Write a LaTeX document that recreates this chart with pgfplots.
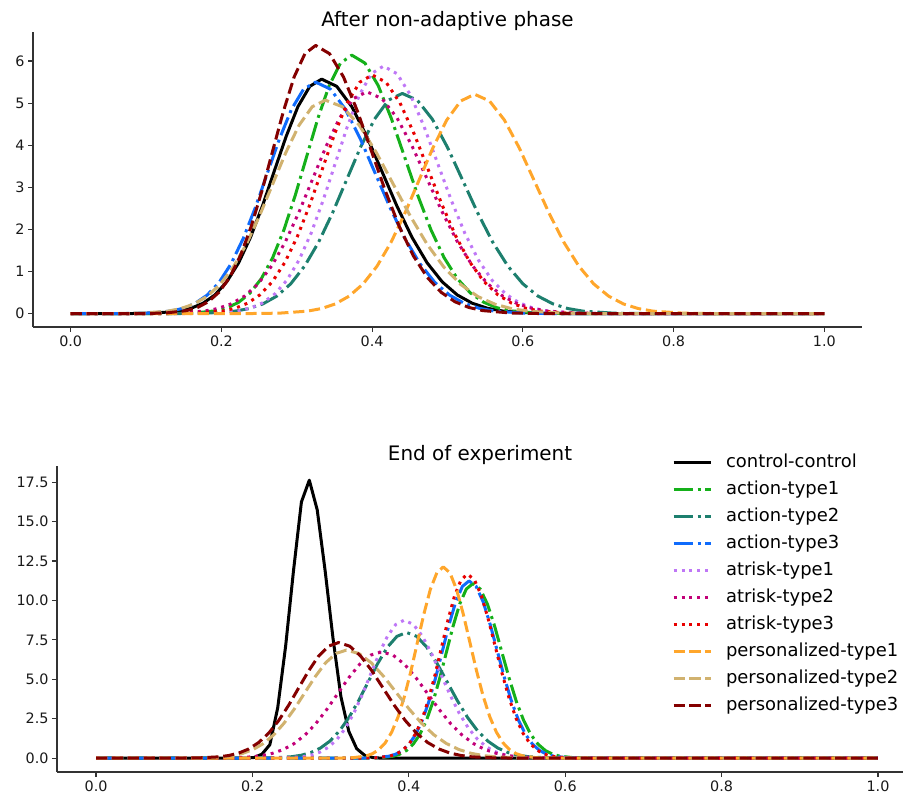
\documentclass[border=0pt]{standalone}
\usepackage{pgfplots}
\pgfplotsset{compat=1.18}
\usepackage{fontspec}
\setmainfont{DejaVu Sans}
\definecolor{cgreen}{HTML}{15B01A}
\definecolor{cteal}{HTML}{1D7F6E}
\definecolor{cblue}{HTML}{0F6BFC}
\definecolor{cpurple}{HTML}{BF77F6}
\definecolor{cmagenta}{HTML}{C20078}
\definecolor{cred}{HTML}{E80000}
\definecolor{corange}{HTML}{FFA62B}
\definecolor{ctan}{HTML}{D1B26F}
\definecolor{cdred}{HTML}{840000}
\pgfplotsset{
  ctrl/.style={black, line width=3bp, solid, line join=round},
  ddot/.style={line width=3bp, line join=round, dash pattern=on 19.2bp off 4.8bp on 3bp off 4.8bp},
  dtt/.style={line width=3bp, line join=round, dash pattern=on 3bp off 4.95bp},
  dsh/.style={line width=3bp, line join=round, dash pattern=on 11.1bp off 4.8bp},
  base/.style={
    scale only axis, anchor=south west,
    axis lines*=left, axis line style={-, line width=1.2bp, black!80},
    tick align=outside, major tick length=5bp,
    tick style={line width=1.2bp, black!80},
    no markers,
    tick label style={font=\fontsize{14.4}{17}\selectfont, black!90},
    /pgf/number format/assume math mode=true,
    xtick={0,0.2,0.4,0.6,0.8,1},
    xticklabel style={/pgf/number format/.cd, fixed, fixed zerofill, precision=1},
    title style={font=\fontsize{20}{24}\selectfont, at={(0.5,1)}, anchor=base, yshift=0bp},
  },
}
\begin{document}
\begin{tikzpicture}
\useasboundingbox (0,0) rectangle (903bp,797bp);
\begin{axis}[base, at={(33bp,470bp)}, width=829bp, height=295bp,
  xmin=-0.05, xmax=1.05, ymin=-0.318, ymax=6.69,
  ytick={0,1,2,3,4,5,6},
  title={After non-adaptive phase}]
\addplot[ctrl] coordinates {(0,0) (0.081,0.002) (0.1125,0.012) (0.144,0.062) (0.1598,0.127) (0.1755,0.245) (0.1913,0.443) (0.207,0.754) (0.2228,1.205) (0.2385,1.808) (0.2543,2.550) (0.270,3.378) (0.2858,4.204) (0.3015,4.916) (0.3173,5.399) (0.333,5.570) (0.353,5.399) (0.373,4.916) (0.393,4.204) (0.413,3.378) (0.433,2.550) (0.453,1.808) (0.473,1.205) (0.493,0.754) (0.513,0.443) (0.533,0.245) (0.553,0.127) (0.573,0.062) (0.613,0.012) (0.653,0.002) (1,0)};
\addplot[ddot, cgreen] coordinates {(0,0) (0.133,0.002) (0.163,0.013) (0.193,0.068) (0.208,0.140) (0.223,0.270) (0.238,0.488) (0.253,0.831) (0.268,1.328) (0.283,1.993) (0.298,2.811) (0.313,3.724) (0.328,4.635) (0.343,5.419) (0.358,5.951) (0.373,6.140) (0.3905,5.951) (0.408,5.419) (0.4255,4.635) (0.443,3.724) (0.4605,2.811) (0.478,1.993) (0.4955,1.328) (0.513,0.831) (0.5305,0.488) (0.548,0.270) (0.5655,0.140) (0.583,0.068) (0.618,0.013) (0.653,0.002) (1,0)};
\addplot[ddot, cteal] coordinates {(0,0) (0.144,0.002) (0.181,0.011) (0.218,0.058) (0.2365,0.119) (0.255,0.230) (0.2735,0.416) (0.292,0.708) (0.3105,1.131) (0.329,1.698) (0.3475,2.394) (0.366,3.172) (0.3845,3.948) (0.403,4.615) (0.4215,5.069) (0.44,5.230) (0.46,5.069) (0.48,4.615) (0.50,3.948) (0.52,3.172) (0.54,2.394) (0.56,1.698) (0.58,1.131) (0.60,0.708) (0.62,0.416) (0.64,0.230) (0.66,0.119) (0.68,0.058) (0.72,0.011) (0.76,0.002) (1,0)};
\addplot[ddot, cblue] coordinates {(0,0) (0.069,0.002) (0.101,0.012) (0.133,0.061) (0.149,0.125) (0.165,0.242) (0.181,0.438) (0.197,0.744) (0.213,1.189) (0.229,1.786) (0.245,2.518) (0.261,3.336) (0.277,4.152) (0.293,4.854) (0.309,5.331) (0.325,5.500) (0.3448,5.331) (0.3645,4.854) (0.3843,4.152) (0.404,3.336) (0.4238,2.518) (0.4435,1.786) (0.4633,1.189) (0.483,0.744) (0.5028,0.438) (0.5225,0.242) (0.5423,0.125) (0.562,0.061) (0.6015,0.012) (0.641,0.002) (1,0)};
\addplot[dtt, cpurple] coordinates {(0,0) (0.159,0.002) (0.191,0.013) (0.223,0.065) (0.239,0.134) (0.255,0.258) (0.271,0.468) (0.287,0.796) (0.303,1.272) (0.319,1.909) (0.335,2.692) (0.351,3.566) (0.367,4.438) (0.383,5.189) (0.399,5.699) (0.415,5.880) (0.433,5.699) (0.451,5.189) (0.469,4.438) (0.487,3.566) (0.505,2.692) (0.523,1.909) (0.541,1.272) (0.559,0.796) (0.577,0.468) (0.595,0.258) (0.613,0.134) (0.631,0.065) (0.667,0.013) (0.703,0.002) (1,0)};
\addplot[dtt, cmagenta] coordinates {(0,0) (0.105,0.002) (0.141,0.012) (0.177,0.059) (0.195,0.120) (0.213,0.232) (0.231,0.419) (0.249,0.713) (0.267,1.140) (0.285,1.711) (0.303,2.413) (0.321,3.196) (0.339,3.978) (0.357,4.651) (0.375,5.108) (0.393,5.270) (0.413,5.108) (0.433,4.651) (0.453,3.978) (0.473,3.196) (0.493,2.413) (0.513,1.711) (0.533,1.140) (0.553,0.713) (0.573,0.419) (0.593,0.232) (0.613,0.120) (0.633,0.059) (0.673,0.012) (0.713,0.002) (1,0)};
\addplot[dtt, cred] coordinates {(0,0) (0.136,0.002) (0.169,0.012) (0.202,0.063) (0.2185,0.129) (0.235,0.249) (0.2515,0.451) (0.268,0.767) (0.2845,1.226) (0.301,1.841) (0.3175,2.596) (0.334,3.439) (0.3505,4.280) (0.367,5.004) (0.3835,5.496) (0.400,5.670) (0.4185,5.496) (0.437,5.004) (0.4555,4.280) (0.474,3.439) (0.4925,2.596) (0.511,1.841) (0.5295,1.226) (0.548,0.767) (0.5665,0.451) (0.585,0.249) (0.6035,0.129) (0.622,0.063) (0.659,0.012) (0.696,0.002) (1,0)};
\addplot[dsh, corange] coordinates {(0,0) (0.240,0.002) (0.277,0.011) (0.314,0.058) (0.3325,0.119) (0.351,0.229) (0.3695,0.415) (0.388,0.705) (0.4065,1.127) (0.425,1.691) (0.4435,2.385) (0.462,3.160) (0.4805,3.933) (0.499,4.598) (0.5175,5.050) (0.536,5.210) (0.5558,5.050) (0.5755,4.598) (0.5953,3.933) (0.615,3.160) (0.6348,2.385) (0.6545,1.691) (0.6743,1.127) (0.694,0.705) (0.7138,0.415) (0.7335,0.229) (0.7533,0.119) (0.773,0.058) (0.8125,0.011) (0.852,0.002) (1,0)};
\addplot[dsh, ctan] coordinates {(0,0) (0.058,0.002) (0.093,0.011) (0.128,0.056) (0.1455,0.116) (0.163,0.223) (0.1805,0.403) (0.198,0.686) (0.2155,1.096) (0.233,1.646) (0.2505,2.321) (0.268,3.075) (0.2855,3.827) (0.303,4.474) (0.3205,4.914) (0.338,5.070) (0.3605,4.914) (0.383,4.474) (0.4055,3.827) (0.428,3.075) (0.4505,2.321) (0.473,1.646) (0.4955,1.096) (0.518,0.686) (0.5405,0.403) (0.563,0.223) (0.5855,0.116) (0.608,0.056) (0.653,0.011) (0.698,0.002) (1,0)};
\addplot[dsh, cdred] coordinates {(0,0) (0.097,0.002) (0.1255,0.014) (0.154,0.071) (0.1683,0.145) (0.1825,0.280) (0.1968,0.507) (0.211,0.862) (0.2253,1.378) (0.2395,2.068) (0.2538,2.916) (0.268,3.864) (0.2823,4.808) (0.2965,5.622) (0.3108,6.174) (0.325,6.370) (0.3435,6.174) (0.362,5.622) (0.3805,4.808) (0.399,3.864) (0.4175,2.916) (0.436,2.068) (0.4545,1.378) (0.473,0.862) (0.4915,0.507) (0.510,0.280) (0.5285,0.145) (0.547,0.071) (0.584,0.014) (0.621,0.002) (1,0)};
\end{axis}
\begin{axis}[base, at={(57bp,25bp)}, width=846bp, height=306bp,
  xmin=-0.05, xmax=1.032, ymin=-0.88, ymax=18.53,
  ytick={0,2.5,5,7.5,10,12.5,15,17.5},
  yticklabel style={/pgf/number format/.cd, fixed, fixed zerofill, precision=1},
  title={End of experiment},
  legend cell align=left,
  legend image code/.code={\draw (0bp,0bp) -- (37bp,0bp);},
  legend style={at={(axis description cs:0.727,1.039)}, anchor=north west,
    draw=none, fill=none, inner sep=0pt, outer sep=0pt,
    font=\fontsize{18}{21}\selectfont, row sep=9.5bp,
    nodes={inner sep=0pt, text height=13.5bp, text depth=4bp},
    /tikz/every odd column/.style={column sep=14bp}}]
\addplot[ctrl] coordinates {(0,0) (0.1919,0) (0.2020,0.04) (0.2121,0.25) (0.2222,0.85) (0.2323,3.2) (0.2424,7.1) (0.2525,11.9) (0.2626,16.25) (0.2727,17.63) (0.2828,15.75) (0.2929,11.9) (0.3030,7.6) (0.3131,3.9) (0.3232,1.7) (0.3333,0.6) (0.3434,0.18) (0.3535,0.04) (0.3636,0) (1,0)};
\addlegendentry{control-control}
\addplot[ddot, cgreen] coordinates {(0,0) (0.346,0.004) (0.363,0.024) (0.380,0.123) (0.3885,0.252) (0.397,0.486) (0.4055,0.881) (0.414,1.498) (0.4225,2.394) (0.431,3.594) (0.4395,5.068) (0.448,6.714) (0.4565,8.356) (0.465,9.769) (0.4735,10.729) (0.482,11.070) (0.4913,10.729) (0.5005,9.769) (0.5098,8.356) (0.519,6.714) (0.5283,5.068) (0.5375,3.594) (0.5468,2.394) (0.556,1.498) (0.5653,0.881) (0.5745,0.486) (0.5838,0.252) (0.593,0.123) (0.6115,0.024) (0.630,0.004) (1,0)};
\addlegendentry{action-type1}
\addplot[ddot, cteal] coordinates {(0,0) (0.201,0.003) (0.2255,0.017) (0.250,0.089) (0.2623,0.182) (0.2745,0.350) (0.2868,0.634) (0.299,1.079) (0.3113,1.724) (0.3235,2.587) (0.3358,3.649) (0.348,4.834) (0.3603,6.016) (0.3725,7.034) (0.3848,7.725) (0.397,7.970) (0.410,7.725) (0.423,7.034) (0.436,6.016) (0.449,4.834) (0.462,3.649) (0.475,2.587) (0.488,1.724) (0.501,1.079) (0.514,0.634) (0.527,0.350) (0.540,0.182) (0.553,0.089) (0.579,0.017) (0.605,0.003) (1,0)};
\addlegendentry{action-type2}
\addplot[ddot, cblue] coordinates {(0,0) (0.341,0.004) (0.358,0.025) (0.375,0.125) (0.3835,0.256) (0.392,0.494) (0.4005,0.894) (0.409,1.521) (0.4175,2.431) (0.426,3.649) (0.4345,5.146) (0.443,6.817) (0.4515,8.484) (0.460,9.919) (0.4685,10.894) (0.477,11.240) (0.486,10.894) (0.495,9.919) (0.504,8.484) (0.513,6.817) (0.522,5.146) (0.531,3.649) (0.540,2.431) (0.549,1.521) (0.558,0.894) (0.567,0.494) (0.576,0.256) (0.585,0.125) (0.603,0.025) (0.621,0.004) (1,0)};
\addlegendentry{action-type3}
\addplot[dtt, cpurple] coordinates {(0,0) (0.222,0.003) (0.2435,0.019) (0.265,0.097) (0.2758,0.199) (0.2865,0.384) (0.2973,0.696) (0.308,1.184) (0.3188,1.892) (0.3295,2.841) (0.3403,4.006) (0.351,5.307) (0.3618,6.605) (0.3725,7.722) (0.3833,8.481) (0.394,8.750) (0.4058,8.481) (0.4175,7.722) (0.4293,6.605) (0.441,5.307) (0.4528,4.006) (0.4645,2.841) (0.4763,1.892) (0.488,1.184) (0.4998,0.696) (0.5115,0.384) (0.5233,0.199) (0.535,0.097) (0.5585,0.019) (0.582,0.003) (1,0)};
\addlegendentry{atrisk-type1}
\addplot[dtt, cmagenta] coordinates {(0,0) (0.141,0.002) (0.169,0.015) (0.197,0.075) (0.211,0.154) (0.225,0.296) (0.239,0.536) (0.253,0.912) (0.267,1.458) (0.281,2.188) (0.295,3.086) (0.309,4.088) (0.323,5.088) (0.337,5.948) (0.351,6.533) (0.365,6.740) (0.3798,6.533) (0.3945,5.948) (0.4093,5.088) (0.424,4.088) (0.4388,3.086) (0.4535,2.188) (0.4683,1.458) (0.483,0.912) (0.4978,0.536) (0.5125,0.296) (0.5273,0.154) (0.542,0.075) (0.5715,0.015) (0.601,0.002) (1,0)};
\addlegendentry{atrisk-type2}
\addplot[dtt, cred] coordinates {(0,0) (0.343,0.004) (0.3595,0.026) (0.376,0.130) (0.3843,0.266) (0.3925,0.513) (0.4008,0.928) (0.409,1.579) (0.4173,2.524) (0.4255,3.789) (0.4338,5.343) (0.442,7.078) (0.4503,8.809) (0.4585,10.299) (0.4668,11.311) (0.475,11.670) (0.4839,11.311) (0.4928,10.299) (0.5016,8.809) (0.5105,7.078) (0.5194,5.343) (0.5283,3.789) (0.5371,2.524) (0.546,1.579) (0.5549,0.928) (0.5638,0.513) (0.5726,0.266) (0.5815,0.130) (0.5993,0.026) (0.617,0.004) (1,0)};
\addlegendentry{atrisk-type3}
\addplot[dsh, corange] coordinates {(0,0) (0.312,0.004) (0.3285,0.027) (0.345,0.135) (0.3533,0.276) (0.3615,0.533) (0.3698,0.965) (0.378,1.642) (0.3863,2.623) (0.3945,3.938) (0.4028,5.553) (0.411,7.357) (0.4193,9.156) (0.4275,10.705) (0.4358,11.757) (0.444,12.130) (0.4525,11.757) (0.461,10.705) (0.4695,9.156) (0.478,7.357) (0.4865,5.553) (0.495,3.938) (0.5035,2.623) (0.512,1.642) (0.5205,0.965) (0.529,0.533) (0.5375,0.276) (0.546,0.135) (0.563,0.027) (0.580,0.004) (1,0)};
\addlegendentry{personalized-type1}
\addplot[dsh, ctan] coordinates {(0,0) (0.108,0.002) (0.1345,0.015) (0.161,0.076) (0.1743,0.156) (0.1875,0.301) (0.2008,0.545) (0.214,0.927) (0.2273,1.481) (0.2405,2.224) (0.2538,3.136) (0.267,4.155) (0.2803,5.171) (0.2935,6.045) (0.3068,6.639) (0.320,6.850) (0.336,6.639) (0.352,6.045) (0.368,5.171) (0.384,4.155) (0.400,3.136) (0.416,2.224) (0.432,1.481) (0.448,0.927) (0.464,0.545) (0.480,0.301) (0.496,0.156) (0.512,0.076) (0.544,0.015) (0.576,0.002) (1,0)};
\addlegendentry{personalized-type2}
\addplot[dsh, cdred] coordinates {(0,0) (0.106,0.002) (0.1315,0.016) (0.157,0.081) (0.1698,0.167) (0.1825,0.322) (0.1953,0.583) (0.208,0.992) (0.2208,1.585) (0.2335,2.380) (0.2463,3.356) (0.259,4.446) (0.2718,5.533) (0.2845,6.469) (0.2973,7.104) (0.310,7.330) (0.3243,7.104) (0.3385,6.469) (0.3528,5.533) (0.367,4.446) (0.3813,3.356) (0.3955,2.380) (0.4098,1.585) (0.424,0.992) (0.4383,0.583) (0.4525,0.322) (0.4668,0.167) (0.481,0.081) (0.5095,0.016) (0.538,0.002) (1,0)};
\addlegendentry{personalized-type3}
\end{axis}
\end{tikzpicture}
\end{document}
